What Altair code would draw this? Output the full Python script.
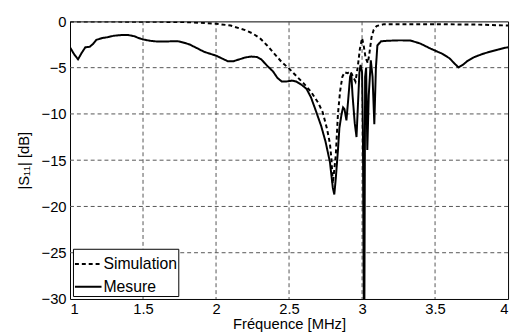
import altair as alt
import pandas as pd

# Simulation |S11| (dB) vs frequency (MHz)
sim_f = [1.00, 1.50, 1.80, 2.00, 2.10, 2.20, 2.25, 2.30, 2.35, 2.40, 2.45, 2.50, 2.55,
         2.60, 2.65, 2.70, 2.73, 2.76, 2.78, 2.79, 2.80, 2.82, 2.835, 2.85, 2.865, 2.88,
         2.90, 2.92, 2.94, 2.955, 2.97, 2.985, 3.00, 3.01, 3.025, 3.04, 3.05, 3.065,
         3.08, 3.10, 3.15, 3.50, 3.80, 4.00]
sim_db = [-0.02, -0.03, -0.08, -0.25, -0.45, -0.95, -1.3, -1.8, -2.6, -3.5, -4.4, -5.1, -5.9,
          -6.7, -7.6, -8.8, -9.8, -11.6, -13.2, -14.8, -17.5, -14.5, -10.0, -7.5, -6.0, -5.5,
          -5.6, -5.4, -6.0, -6.5, -5.0, -3.0, -1.8, -2.5, -4.0, -4.5, -3.5, -1.7,
          -0.9, -0.5, -0.3, -0.3, -0.35, -0.45]

# Measured |S11| (dB) vs frequency (MHz)
mes_f = [1.00, 1.03, 1.055, 1.08, 1.105, 1.135, 1.16, 1.18, 1.22, 1.26, 1.30, 1.35, 1.40,
         1.44, 1.47, 1.50, 1.55, 1.60, 1.65, 1.70, 1.74, 1.78, 1.82, 1.87, 1.92, 1.96,
         2.00, 2.04, 2.08, 2.12, 2.16, 2.20, 2.24, 2.28, 2.31, 2.35, 2.39, 2.42, 2.45,
         2.48, 2.52, 2.55, 2.59, 2.62, 2.65, 2.68, 2.72, 2.75, 2.78, 2.80, 2.81, 2.82,
         2.835, 2.845, 2.86, 2.87, 2.88, 2.893, 2.905, 2.918, 2.926, 2.935, 2.95, 2.962,
         2.972, 2.982, 2.99, 3.00, 3.006, 3.012, 3.016, 3.021, 3.028, 3.036, 3.046, 3.06,
         3.072, 3.084, 3.095, 3.105, 3.13, 3.17, 3.25, 3.33, 3.40, 3.47, 3.55, 3.60,
         3.63, 3.66, 3.69, 3.72, 3.77, 3.82, 3.87, 3.93, 3.98, 4.00]
mes_db = [-2.8, -3.6, -4.1, -3.4, -2.8, -2.75, -2.4, -2.0, -1.8, -1.7, -1.55, -1.48, -1.48,
          -1.6, -1.8, -1.95, -2.1, -2.18, -2.18, -2.15, -2.15, -2.3, -2.5, -2.9, -3.3, -3.5,
          -3.7, -4.0, -4.3, -4.3, -4.1, -3.9, -3.8, -3.85, -4.1, -4.8, -5.4, -6.1, -6.5,
          -6.5, -6.4, -6.5, -6.9, -7.3, -8.2, -9.5, -11.3, -13.0, -15.2, -18.0, -18.7, -17.0,
          -13.9, -11.5, -10.0, -9.3, -9.5, -10.7, -8.5, -6.0, -5.6, -8.0, -11.0, -12.5,
          -9.0, -5.5, -4.7, -5.5, -12.0, -31.0, -31.0, -6.0, -5.0, -13.9, -8.0, -4.2,
          -6.0, -11.1, -5.0, -2.6, -2.15, -2.1, -2.05, -2.06, -2.4, -2.95, -3.5, -4.0,
          -4.5, -4.97, -4.7, -4.3, -3.85, -3.55, -3.3, -3.05, -2.85, -2.8]

series_names = ["Simulation", "Mesure"]
x_ticks = [1, 1.5, 2, 2.5, 3, 3.5, 4]
y_ticks = [0, -5, -10, -15, -20, -25, -30]
x_grid = [1.5, 2, 2.5, 3, 3.5]
y_grid = [-5, -10, -15, -20, -25]

rows = []
for i, (f, d) in enumerate(zip(sim_f, sim_db)):
    rows.append({"f": f, "db": d, "serie": "Simulation", "i": i})
for i, (f, d) in enumerate(zip(mes_f, mes_db)):
    rows.append({"f": f, "db": d, "serie": "Mesure", "i": i})
df = pd.DataFrame(rows)

FONT = "Liberation Sans"
xscale = alt.Scale(domain=[1, 4], nice=False, zero=False)
yscale = alt.Scale(domain=[-30, 0], nice=False, zero=False)

x_axis = alt.Axis(values=x_ticks, format="~g", title="Fréquence [MHz]",
                  grid=False, ticks=False, domain=False, labelPadding=3, titlePadding=0)
y_axis = alt.Axis(values=y_ticks, format="~g", title="|S₁₁| [dB]",
                  grid=False, ticks=False, domain=False, labelPadding=4, titlePadding=10)

gx = alt.Chart(pd.DataFrame({"v": x_grid})).mark_rule(
    color="#555555", strokeDash=[4, 3], strokeWidth=1
).encode(x=alt.X("v:Q", scale=xscale, axis=x_axis))

gy = alt.Chart(pd.DataFrame({"v": y_grid})).mark_rule(
    color="#555555", strokeDash=[4, 3], strokeWidth=1
).encode(y=alt.Y("v:Q", scale=yscale, axis=y_axis))

lines = alt.Chart(df).mark_line(color="black", strokeWidth=2, clip=True).encode(
    x=alt.X("f:Q", scale=xscale, axis=x_axis),
    y=alt.Y("db:Q", scale=yscale, axis=y_axis),
    strokeDash=alt.StrokeDash("serie:N",
        scale=alt.Scale(domain=series_names, range=[[4, 3], [1, 0]]),
        legend=alt.Legend(orient="bottom-left", title=None, offset=3,
                          strokeColor="black", fillColor="white", padding=1,
                          symbolType="stroke", symbolSize=729, symbolStrokeWidth=2,
                          symbolStrokeColor="black", labelFontSize=16, labelFont=FONT,
                          labelColor="black", rowPadding=-7, labelOffset=1)),
    order="i:Q",
)

chart = alt.layer(gx, gy, lines).properties(
    width=445, height=282,
    autosize=alt.AutoSizeParams(type="none"),
    padding={"left": 63, "top": 11, "right": 4, "bottom": 35},
).configure_view(stroke="black", strokeWidth=1).configure_axis(
    labelFont=FONT, titleFont=FONT, labelFontSize=15, titleFontSize=15,
    labelColor="black", titleColor="black", titleFontWeight="normal",
)

chart.save("out.html", embed_options={"renderer": "svg", "actions": False})
